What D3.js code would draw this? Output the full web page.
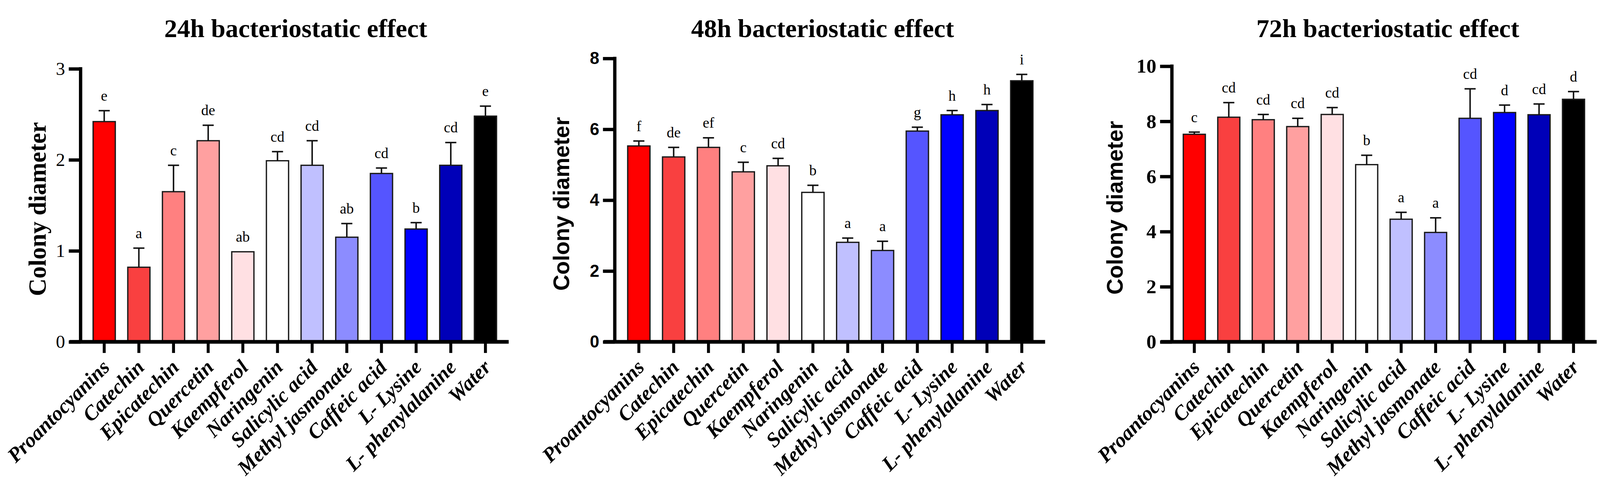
<!DOCTYPE html>
<html>
<head>
<meta charset="utf-8">
<script src="https://cdn.jsdelivr.net/npm/d3@7"></script>
<style>
  html, body { margin: 0; padding: 0; background: #fff; overflow: hidden; }
  svg { display: block; width: 100vw; height: 100vh; }
</style>
</head>
<body>
<svg id="chart" viewBox="0 0 4328 1278" preserveAspectRatio="xMidYMid meet"></svg>
<script>
// ---- data ----
var categories = ['Proantocyanins', 'Catechin', 'Epicatechin', 'Quercetin', 'Kaempferol', 'Naringenin',
                  'Salicylic acid', 'Methyl jasmonate', 'Caffeic acid', 'L- Lysine', 'L- phenylalanine', 'Water'];

var means24   = [2.42, 0.82, 1.65, 2.21, 0.99, 1.99, 1.94, 1.15, 1.85, 1.24, 1.94, 2.48];
var sd24      = [0.12, 0.21, 0.29, 0.17, 0.00, 0.10, 0.27, 0.15, 0.06, 0.07, 0.25, 0.11];
var letters24 = ['e', 'a', 'c', 'de', 'ab', 'cd', 'cd', 'ab', 'cd', 'b', 'cd', 'e'];
var ticks24   = [0, 1, 2, 3];

var means48   = [5.53, 5.22, 5.49, 4.80, 4.97, 4.22, 2.81, 2.58, 5.95, 6.41, 6.53, 7.37];
var sd48      = [0.14, 0.27, 0.27, 0.27, 0.21, 0.20, 0.12, 0.26, 0.11, 0.12, 0.17, 0.18];
var letters48 = ['f', 'de', 'ef', 'c', 'cd', 'b', 'a', 'a', 'g', 'h', 'h', 'i'];
var ticks48   = [0, 2, 4, 6, 8];

var means72   = [7.53, 8.15, 8.06, 7.81, 8.25, 6.43, 4.45, 3.97, 8.11, 8.32, 8.24, 8.80];
var sd72      = [0.08, 0.53, 0.19, 0.30, 0.25, 0.34, 0.25, 0.53, 1.07, 0.27, 0.39, 0.28];
var letters72 = ['c', 'cd', 'cd', 'cd', 'cd', 'b', 'a', 'a', 'cd', 'd', 'cd', 'd'];
var ticks72   = [0, 2, 4, 6, 8, 10];

var barColors = ['#ff0000', '#f94040', '#ff8080', '#ffa0a0', '#ffe0e3', '#ffffff',
                 '#c0c0ff', '#8c8cff', '#5555ff', '#0000ff', '#0000b8', '#000000'];

var SERIF = '"Liberation Serif", "Times New Roman", serif';
var SANS  = '"Liberation Sans", Arial, sans-serif';

// ---- panel layout ----
var panels = [
    { title: '24h bacteriostatic effect', means: means24, sd: sd24, letters: letters24, ticks: ticks24,
      axisX: 218, top: 150, bandL: 235, bandR: 1360, titleX: 800, labelX: 124,
      labelFont: SERIF, labelSize: 66, tickFont: SERIF, tickWeight: 'normal', tickSize: 50 },
    { title: '48h bacteriostatic effect', means: means48, sd: sd48, letters: letters48, ticks: ticks48,
      axisX: 1663, top: 122, bandL: 1681, bandR: 2811, titleX: 2225, labelX: 1540,
      labelFont: SANS, labelSize: 60, tickFont: SANS, tickWeight: 'bold', tickSize: 46 },
    { title: '72h bacteriostatic effect', means: means72, sd: sd72, letters: letters72, ticks: ticks72,
      axisX: 3170, top: 143, bandL: 3184, bandR: 4303, titleX: 3754, labelX: 3037,
      labelFont: SANS, labelSize: 60, tickFont: SERIF, tickWeight: 'bold', tickSize: 54 }
];

var svg = d3.select('#chart');
var y0 = 889;          // baseline of every panel
var axisW = 9;

panels.forEach(function(p) {
    var g = svg.append('g');

    var x = d3.scaleBand()
        .domain(categories)
        .range([p.bandL, p.bandR])
        .paddingInner(0.36)
        .paddingOuter(0.18);

    var y = d3.scaleLinear()
        .domain([0, d3.max(p.ticks)])
        .range([y0, p.top]);

    var rows = categories.map(function(c, i) {
        return { name: c, mean: p.means[i], sd: p.sd[i], letter: p.letters[i], color: barColors[i] };
    });

    // bars
    g.selectAll('rect.bar')
        .data(rows)
        .enter().append('rect')
        .attr('class', 'bar')
        .attr('x', function(d) { return x(d.name); })
        .attr('width', x.bandwidth())
        .attr('y', function(d) { return y(d.mean); })
        .attr('height', function(d) { return y0 - y(d.mean); })
        .attr('fill', function(d) { return d.color; })
        .attr('stroke', '#1a1a1a')
        .attr('stroke-width', 3.5);

    // error bars (upper half only)
    var eb = g.selectAll('g.err')
        .data(rows.filter(function(d) { return d.sd > 0; }))
        .enter().append('g')
        .attr('class', 'err')
        .attr('stroke', '#111')
        .attr('stroke-width', 4);
    eb.append('line')
        .attr('x1', function(d) { return x(d.name) + x.bandwidth() / 2; })
        .attr('x2', function(d) { return x(d.name) + x.bandwidth() / 2; })
        .attr('y1', function(d) { return y(d.mean); })
        .attr('y2', function(d) { return y(d.mean + d.sd); });
    eb.append('line')
        .attr('x1', function(d) { return x(d.name) + x.bandwidth() / 2 - 15; })
        .attr('x2', function(d) { return x(d.name) + x.bandwidth() / 2 + 15; })
        .attr('y1', function(d) { return y(d.mean + d.sd); })
        .attr('y2', function(d) { return y(d.mean + d.sd); });

    // significance letters
    g.selectAll('text.sig')
        .data(rows)
        .enter().append('text')
        .attr('class', 'sig')
        .attr('x', function(d) { return x(d.name) + x.bandwidth() / 2; })
        .attr('y', function(d) { return y(d.mean + d.sd) - 27; })
        .attr('text-anchor', 'middle')
        .style('font-family', SERIF)
        .style('font-size', '40px')
        .text(function(d) { return d.letter; });

    // y axis
    var yAxis = d3.axisLeft(y)
        .tickValues(p.ticks)
        .tickFormat(d3.format('d'))
        .tickSize(32)
        .tickSizeOuter(0)
        .tickPadding(10);
    var ya = g.append('g')
        .attr('transform', 'translate(' + p.axisX + ',0)')
        .call(yAxis);
    ya.select('.domain').remove();
    ya.selectAll('.tick line').attr('stroke', '#000').attr('stroke-width', axisW);
    ya.selectAll('.tick text')
        .style('font-family', p.tickFont)
        .style('font-weight', p.tickWeight)
        .style('font-size', p.tickSize + 'px')
        .attr('fill', '#000');
    g.append('line')
        .attr('x1', p.axisX).attr('x2', p.axisX)
        .attr('y1', y(d3.max(p.ticks)) - axisW / 2)
        .attr('y2', y0)
        .attr('stroke', '#000')
        .attr('stroke-width', axisW);

    // x axis
    var xAxis = d3.axisBottom(x).tickSize(30).tickSizeOuter(0).tickFormat('');
    var xa = g.append('g')
        .attr('transform', 'translate(0,' + y0 + ')')
        .call(xAxis);
    xa.select('.domain').remove();
    xa.selectAll('.tick line').attr('stroke', '#000').attr('stroke-width', 8);
    g.append('line')
        .attr('x1', p.axisX - 30)
        .attr('x2', p.bandR + 16)
        .attr('y1', y0).attr('y2', y0)
        .attr('stroke', '#000')
        .attr('stroke-width', axisW + 1);

    // category labels
    g.selectAll('text.cat')
        .data(categories)
        .enter().append('text')
        .attr('class', 'cat')
        .attr('transform', function(d) {
            return 'translate(' + (x(d) + x.bandwidth() / 2 + 18) + ',' + (y0 + 72) + ') rotate(-45)';
        })
        .attr('text-anchor', 'end')
        .style('font-family', SERIF)
        .style('font-weight', 'bold')
        .style('font-style', 'italic')
        .style('font-size', '56px')
        .text(function(d) { return d; });

    // y label
    g.append('text')
        .attr('transform', 'translate(' + p.labelX + ',' + ((p.top + y0) / 2 + 10) + ') rotate(-90)')
        .attr('text-anchor', 'middle')
        .style('font-family', p.labelFont)
        .style('font-weight', 'bold')
        .style('font-size', p.labelSize + 'px')
        .text('Colony diameter');

    // title
    g.append('text')
        .attr('x', p.titleX)
        .attr('y', 64)
        .attr('text-anchor', 'middle')
        .style('font-family', SERIF)
        .style('font-weight', 'bold')
        .style('font-size', '70px')
        .text(p.title);
});
</script>
</body>
</html>
